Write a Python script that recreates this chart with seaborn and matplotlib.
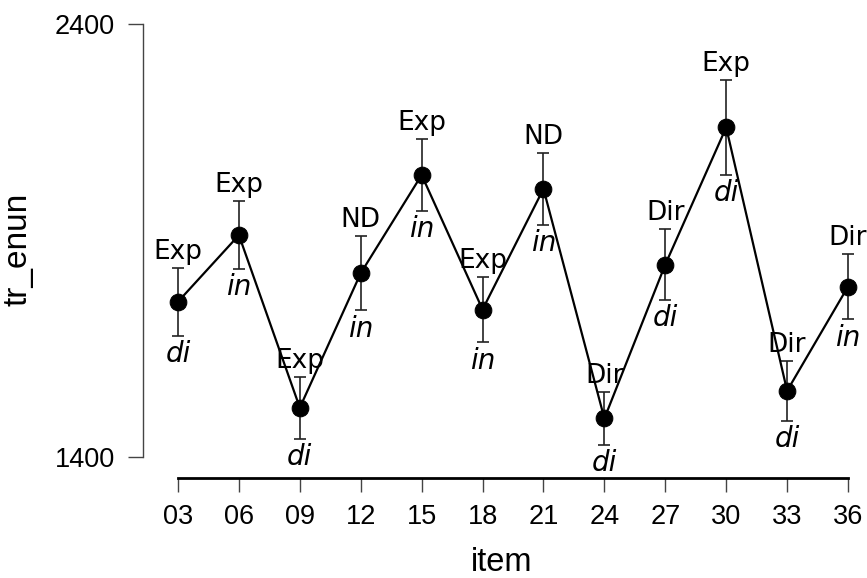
import matplotlib
matplotlib.use("Agg")
import matplotlib.pyplot as plt
import seaborn as sns
import pandas as pd

# ---- data ----
items = [3, 6, 9, 12, 15, 18, 21, 24, 27, 30, 33, 36]
item_labels = ["03", "06", "09", "12", "15", "18", "21", "24", "27", "30", "33", "36"]
tr_enun = [1759, 1913, 1514, 1825, 2052, 1741, 2020, 1489, 1845, 2162, 1553, 1794]
err = [79, 79, 72, 86, 83, 76, 84, 62, 82, 110, 69, 76]
top_labels = ["Exp", "Exp", "Exp", "ND", "Exp", "Exp", "ND", "Dir", "Dir", "Exp", "Dir", "Dir"]
bottom_labels = ["di", "in", "di", "in", "in", "in", "in", "di", "di", "di", "di", "in"]

df = pd.DataFrame({"item": items, "tr_enun": tr_enun, "err": err})

sns.set_style("white")
plt.rcParams["font.family"] = ["Liberation Sans", "DejaVu Sans"]
plt.rcParams["text.color"] = "black"
plt.rcParams["axes.labelcolor"] = "black"
plt.rcParams["xtick.color"] = "black"
plt.rcParams["ytick.color"] = "black"

fig = plt.figure(figsize=(8.67, 5.78), dpi=100)
ax = fig.add_axes([143 / 867, 1 - 478 / 578, (860 - 143) / 867, (478 - 20) / 578])

ax.errorbar(df["item"], df["tr_enun"], yerr=df["err"], fmt="none",
            ecolor="#222222", elinewidth=1.2, capsize=4.5, capthick=1.2, zorder=2)
sns.lineplot(data=df, x="item", y="tr_enun", color="black", linewidth=1.6,
             marker="o", markersize=12, markeredgecolor="black", ax=ax, zorder=3)

# labels above and below the error bars
for x, y, e, t, b in zip(items, tr_enun, err, top_labels, bottom_labels):
    ax.annotate(t, (x, y + e), xytext=(0, 2), textcoords="offset points",
                ha="center", va="bottom", fontsize=19, family="DejaVu Sans")
    ax.annotate(b, (x, y - e), xytext=(0, -3), textcoords="offset points",
                ha="center", va="top", fontsize=20, family="DejaVu Sans",
                style="italic")

ax.set_xlim(1.276, 36.59)
ax.set_ylim(1351.4, 2410.4)
ax.set_xticks(items)
ax.set_xticklabels(item_labels)
ax.set_yticks([1400, 2400])
ax.set_yticklabels(["1400", "2400"])

for s in ["top", "right"]:
    ax.spines[s].set_visible(False)
ax.spines["left"].set_bounds(1400, 2400)
ax.spines["left"].set_color("#444444")
ax.spines["left"].set_linewidth(1)
ax.spines["bottom"].set_bounds(3, 36)
ax.spines["bottom"].set_color("black")
ax.spines["bottom"].set_linewidth(2)

ax.tick_params(axis="x", length=10, width=1, color="#444444", pad=9, labelsize=19.5, direction="out")
ax.tick_params(axis="y", length=11, width=1, color="#444444", pad=9, labelsize=19.5, direction="out")
ax.tick_params(bottom=True, left=True)

ax.set_xlabel("item", fontsize=23.5, labelpad=12)
ax.set_ylabel("tr_enun", fontsize=24)
ax.yaxis.set_label_coords((34 - 143) / 717, 0.5)

fig.savefig("out.png", dpi=100)
